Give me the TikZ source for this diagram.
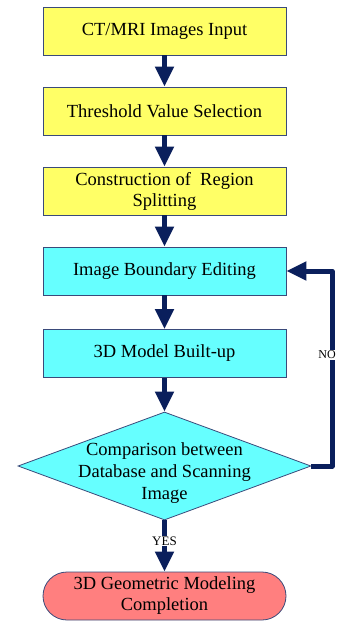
\documentclass[tikz,border=0pt]{standalone}
\usepackage{fontspec}
\setmainfont{Liberation Serif}
\usetikzlibrary{shapes.geometric,arrows.meta}
\definecolor{boxline}{HTML}{3A4A7A}
\definecolor{arrowcol}{HTML}{0A1F5C}
\definecolor{yel}{HTML}{FFFF66}
\definecolor{cya}{HTML}{66FFFF}
\definecolor{pinkred}{HTML}{FF7F7F}
\begin{document}
\begin{tikzpicture}[x=1pt,y=-1pt,
  txt/.style={align=center,font=\fontsize{18.5}{21}\selectfont},
  procbox/.style={txt,draw=boxline,line width=0.8pt,minimum width=243pt,minimum height=48pt,inner sep=0pt},
  flowarrow/.style={draw=arrowcol,line width=5pt,-{Triangle[length=20pt,width=18pt]}},
  lbl/.style={fill=white,inner sep=1pt,font=\fontsize{13}{14}\selectfont}]
\useasboundingbox (0,0) rectangle (339,621);
\node[procbox,fill=yel] (b1) at (164.5,31) {CT/MRI Images Input};
\node[procbox,fill=yel] (b2) at (164.5,111) {Threshold Value Selection};
\node[procbox,fill=yel] (b3) at (164.5,191) {Construction of~ Region\\Splitting};
\node[procbox,fill=cya] (b4) at (164.5,271) {Image Boundary Editing};
\node[procbox,fill=cya] (b5) at (164.5,353.5) {3D Model Built-up};
\node[diamond,draw=boxline,line width=0.8pt,fill=cya,aspect=2.7,minimum width=293pt,minimum height=108pt,inner sep=0pt] (d) at (164.5,466) {};
\node[txt,font=\fontsize{18.5}{22}\selectfont] (dt) at (164.5,473) {Comparison between\\Database and Scanning\\Image};
\node[procbox,fill=pinkred,rounded corners=24pt] (t) at (164.5,596) {3D Geometric Modeling\\Completion};
\draw[flowarrow] (b1.south) -- (b2.north);
\draw[flowarrow] (b2.south) -- (b3.north);
\draw[flowarrow] (b3.south) -- (b4.north);
\draw[flowarrow] (b4.south) -- (b5.north);
\draw[flowarrow] (b5.south) -- (d.north);
\draw[flowarrow] (d.south) -- node[lbl,pos=0.4]{YES} (t.north);
\coordinate (c1) at (332,466);
\coordinate (c2) at (332,271);
\draw[flowarrow,line join=round] (d.east) -- (c1) -- (c2) -- (b4.east);
\node[lbl,font=\fontsize{12}{13}\selectfont] (no) at (327,355) {NO};
\end{tikzpicture}
\end{document}
